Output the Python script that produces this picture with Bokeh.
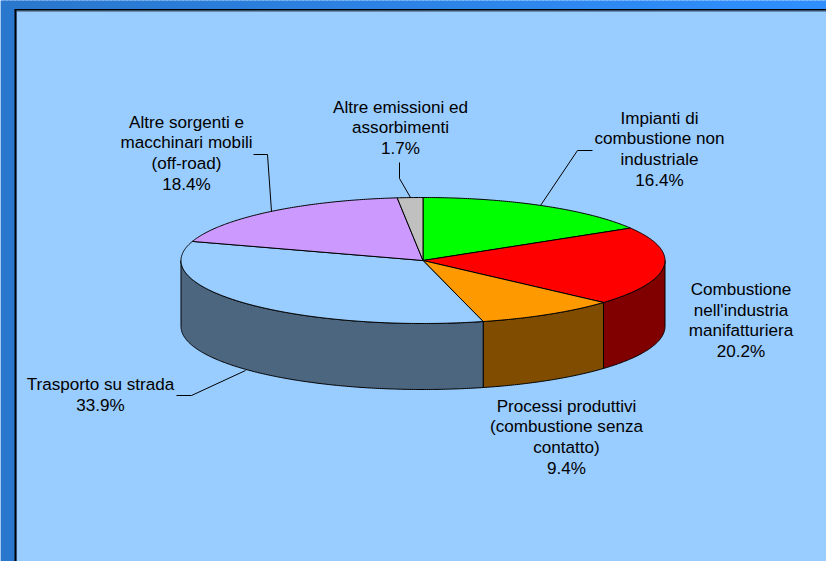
import numpy as np
from bokeh.plotting import figure
from bokeh.embed import file_html
from bokeh.resources import INLINE
from bokeh.core.properties import value
from bokeh.models import GlobalInlineStyleSheet

names = ["Impianti di\ncombustione non\nindustriale", "Combustione\nnell'industria\nmanifatturiera",
         "Processi produttivi\n(combustione senza\ncontatto)", "Trasporto su strada",
         "Altre sorgenti e\nmacchinari mobili\n(off-road)", "Altre emissioni ed\nassorbimenti"]
shares = [16.4, 20.2, 9.4, 33.9, 18.4, 1.7]
top_colors = ["#00FF00", "#FF0000", "#FF9900", "#99CCFF", "#CC99FF", "#C0C0C0"]
side_colors = ["#008000", "#800000", "#804D00", "#4D6680", "#664D80", "#606060"]
label_xy = [(659, 108), (740.5, 279.5), (566, 396), (100, 374.5), (186, 112), (400, 97)]
leaders = [[(540, 205), (577, 150), (592, 150)], [], [],
           [(245, 370), (191, 395), (176, 395)],
           [(271, 211), (267, 154), (253, 154)],
           [(410, 197), (399, 178), (399, 162)]]

W, H = 826, 561
CX, CY, RX, RY, DEPTH = 422.5, 260, 242, 63, 66

p = figure(width=W, height=H, x_range=(0, W), y_range=(H, 0), output_backend="svg",
           toolbar_location=None, min_border=0, outline_line_color=None,
           background_fill_color="#99CCFF", border_fill_color="#99CCFF")
p.axis.visible = False
p.grid.visible = False
p.stylesheets = [GlobalInlineStyleSheet(css="html,body{margin:0;padding:0;overflow:hidden}")]

# backdrop gradient, dark on the left to bright on the right
cols = np.arange(0, W, 4)
t = cols / W
grad = ["#%02X%02X%02X" % (int(42 + 6 * u), int(120 + 24 * u), int(205 + 50 * u)) for u in t]
p.quad(left=cols, right=cols + 5, top=-1, bottom=H + 1, fill_color=grad, line_color=None)
p.quad(left=16, right=W + 2, top=10, bottom=H + 2, fill_color="#99CCFF", line_color=None)
p.quad(left=14, right=16, top=9, bottom=H + 2, fill_color="#000000", line_color=None)
p.quad(left=14, right=W + 2, top=8.5, bottom=10, fill_color="#000000", line_color=None)
p.quad(left=16, right=W + 2, top=10, bottom=11, fill_color="#3A4A60", line_color=None)


def rim(a0, a1, dz=0.0):
    a = np.radians(np.linspace(a0, a1, max(int(abs(a1 - a0)) * 2, 2)))
    return CX + RX * np.sin(a), CY - RY * np.cos(a) + dz


bounds = np.concatenate([[0], np.cumsum(shares)]) * 3.6
for i in range(len(shares)):
    a0, a1 = bounds[i], bounds[i + 1]
    lo, hi = max(a0, 90), min(a1, 270)
    if lo < hi:
        x1, y1 = rim(lo, hi)
        x2, y2 = rim(hi, lo, DEPTH)
        p.patch(np.r_[x1, x2], np.r_[y1, y2], fill_color=side_colors[i], line_color="#000000", line_width=1)
for i in range(len(shares)):
    a0, a1 = bounds[i], bounds[i + 1]
    x1, y1 = rim(a0, a1)
    p.patch(np.r_[CX, x1], np.r_[CY, y1], fill_color=top_colors[i], line_color="#000000", line_width=1)

for i, pts in enumerate(leaders):
    if pts:
        p.line([q[0] for q in pts], [q[1] for q in pts], line_color="#000000", line_width=1)

for i, nm in enumerate(names):
    lines = nm.split("\n") + [f"{shares[i]:.1f}%"]
    lx, ly = label_xy[i]
    for j, s in enumerate(lines):
        p.text([lx], [ly + j * 20.7], text=[s], text_align="center", text_baseline="top",
               text_font=value("Liberation Sans"), text_font_size="17.1px", text_color="#000000")

open("out.html", "w").write(file_html(p, INLINE))
